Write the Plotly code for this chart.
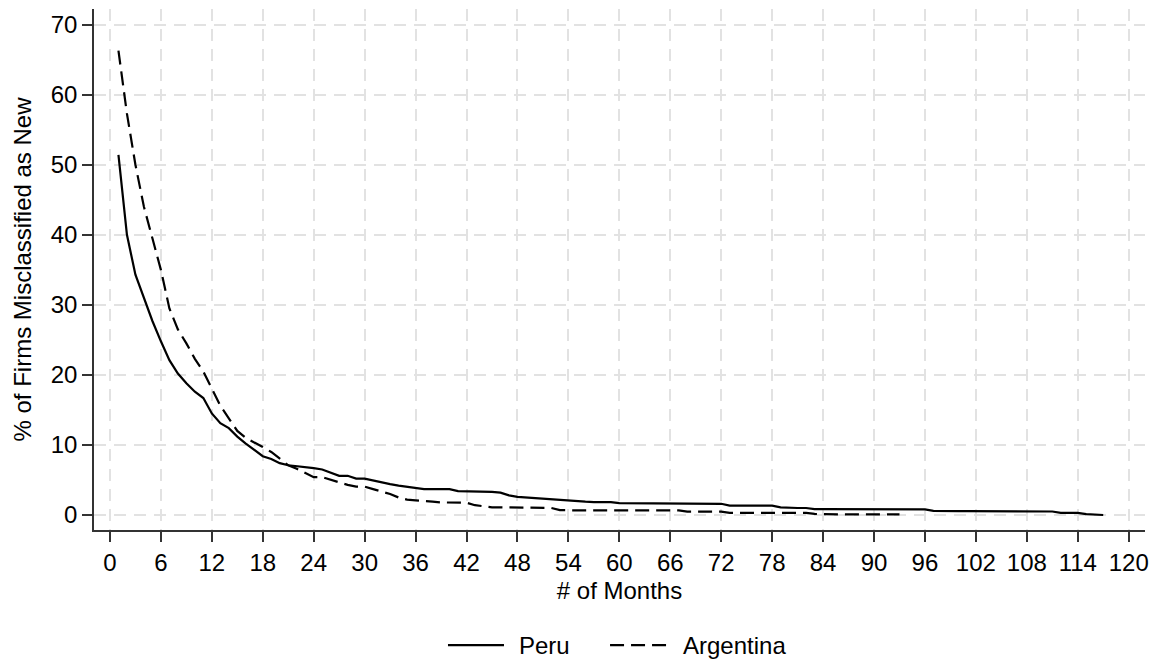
import plotly.graph_objects as go

# Share of firms misclassified as new, by number of months observed
peru_months = list(range(1, 118))
peru_pct = [
    51.4, 40.0, 34.3, 31.0, 27.7, 24.8, 22.1, 20.2, 18.8, 17.6,   # 1-10
    16.7, 14.5, 13.1, 12.4, 11.2, 10.2, 9.3, 8.4, 8.0, 7.4,       # 11-20
    7.1, 7.0, 6.8, 6.7, 6.5, 6.0, 5.6, 5.6, 5.2, 5.2,             # 21-30
    4.9, 4.7, 4.4, 4.2, 4.0, 3.9, 3.7, 3.7, 3.7, 3.7,             # 31-40
    3.4, 3.4, 3.4, 3.4, 3.3, 3.2, 2.8, 2.6, 2.5, 2.4,             # 41-50
    2.3, 2.2, 2.1, 2.0, 1.9, 1.9, 1.85, 1.85, 1.85, 1.7,          # 51-60
    1.7, 1.7, 1.7, 1.7, 1.7, 1.7, 1.7, 1.7, 1.7, 1.65,            # 61-70
    1.65, 1.6, 1.33, 1.33, 1.33, 1.33, 1.33, 1.33, 1.1, 1.0,      # 71-80
    1.0, 1.0, 0.85, 0.85, 0.85, 0.85, 0.85, 0.85, 0.85, 0.85,     # 81-90
    0.85, 0.85, 0.85, 0.85, 0.85, 0.8, 0.6, 0.55, 0.55, 0.55,     # 91-100
    0.55, 0.55, 0.55, 0.55, 0.55, 0.55, 0.55, 0.55, 0.55, 0.55,   # 101-110
    0.5, 0.3, 0.3, 0.3, 0.12, 0.05, 0.0,                          # 111-117
]

argentina_months = list(range(1, 94))
argentina_pct = [
    66.3, 57.3, 50.0, 44.0, 39.5, 35.0, 29.5, 26.5, 24.5, 22.3,   # 1-10
    20.5, 18.0, 15.6, 13.8, 12.0, 11.0, 10.4, 9.7, 9.0, 8.1,      # 11-20
    7.1, 6.6, 6.0, 5.4, 5.4, 5.0, 4.6, 4.3, 4.05, 4.05,           # 21-30
    3.7, 3.4, 3.0, 2.5, 2.2, 2.1, 2.05, 1.9, 1.8, 1.75,           # 31-40
    1.75, 1.75, 1.4, 1.25, 1.1, 1.1, 1.1, 1.1, 1.1, 1.1,          # 41-50
    1.1, 1.0, 0.7, 0.65, 0.65, 0.65, 0.65, 0.65, 0.65, 0.65,      # 51-60
    0.65, 0.65, 0.65, 0.65, 0.65, 0.65, 0.65, 0.48, 0.48, 0.48,   # 61-70
    0.48, 0.48, 0.3, 0.3, 0.3, 0.3, 0.3, 0.3, 0.3, 0.3,           # 71-80
    0.3, 0.3, 0.15, 0.1, 0.1, 0.1, 0.1, 0.1, 0.1, 0.1,            # 81-90
    0.1, 0.1, 0.1,                                                # 91-93
]

series_names = ["Peru", "Argentina"]
series_dash = ["solid", "14px,7px"]

x_ticks = list(range(0, 121, 6))
y_ticks = list(range(0, 71, 10))

FONT = "Liberation Sans, Arial, sans-serif"
FS = 24
GRID = "#e2e2e2"
AXIS = "#333333"

fig = go.Figure()
for name, xs, ys, dash in zip(series_names,
                              [peru_months, argentina_months],
                              [peru_pct, argentina_pct],
                              series_dash):
    fig.add_trace(go.Scatter(
        x=xs, y=ys, mode="lines", name=name, showlegend=False,
        line=dict(color="black", width=2.2, dash=dash),
    ))

fig.update_layout(
    width=1164, height=662,
    margin=dict(l=94, r=19, t=9, b=132, autoexpand=False),
    paper_bgcolor="white", plot_bgcolor="white",
    font=dict(family=FONT, size=FS, color="black"),
    showlegend=False,
)

# Legend row below the x-axis title: key line followed by its label
legend_y = -0.221
legend_items = [
    (0.3368, 0.3901, 0.4025),
    (0.4910, 0.5452, 0.5585),
]
for name, dash, (x0, x1, xt) in zip(series_names, series_dash, legend_items):
    fig.add_shape(type="line", xref="paper", yref="paper",
                  x0=x0, x1=x1, y0=legend_y, y1=legend_y,
                  line=dict(color="black", width=2.2, dash=dash))
    fig.add_annotation(xref="paper", yref="paper", x=xt, y=legend_y,
                       xanchor="left", yanchor="middle", showarrow=False,
                       text=name, font=dict(size=FS, family=FONT, color="black"))

fig.update_xaxes(
    range=[-1.88, 121.92], tickvals=x_ticks, ticktext=[str(v) for v in x_ticks],
    showline=True, linecolor=AXIS, linewidth=1.6, mirror=False,
    ticks="outside", ticklen=10, tickwidth=1.6, tickcolor=AXIS,
    tickfont=dict(size=FS), automargin=False,
    showgrid=True, gridcolor=GRID, gridwidth=2, griddash="12px,8px",
    zeroline=False,
    title=dict(text="# of Months", font=dict(size=FS), standoff=8),
)
fig.update_yaxes(
    range=[-2.14, 72.24], tickvals=y_ticks, ticktext=[str(v) for v in y_ticks],
    showline=True, linecolor=AXIS, linewidth=1.6, mirror=False,
    ticks="outside", ticklen=10, tickwidth=1.6, tickcolor=AXIS,
    tickfont=dict(size=FS), automargin=False,
    showgrid=True, gridcolor=GRID, gridwidth=2, griddash="12px,8px",
    zeroline=False,
    title=dict(text="% of Firms Misclassified as New", font=dict(size=FS), standoff=12),
)

fig.write_html("out.html")
